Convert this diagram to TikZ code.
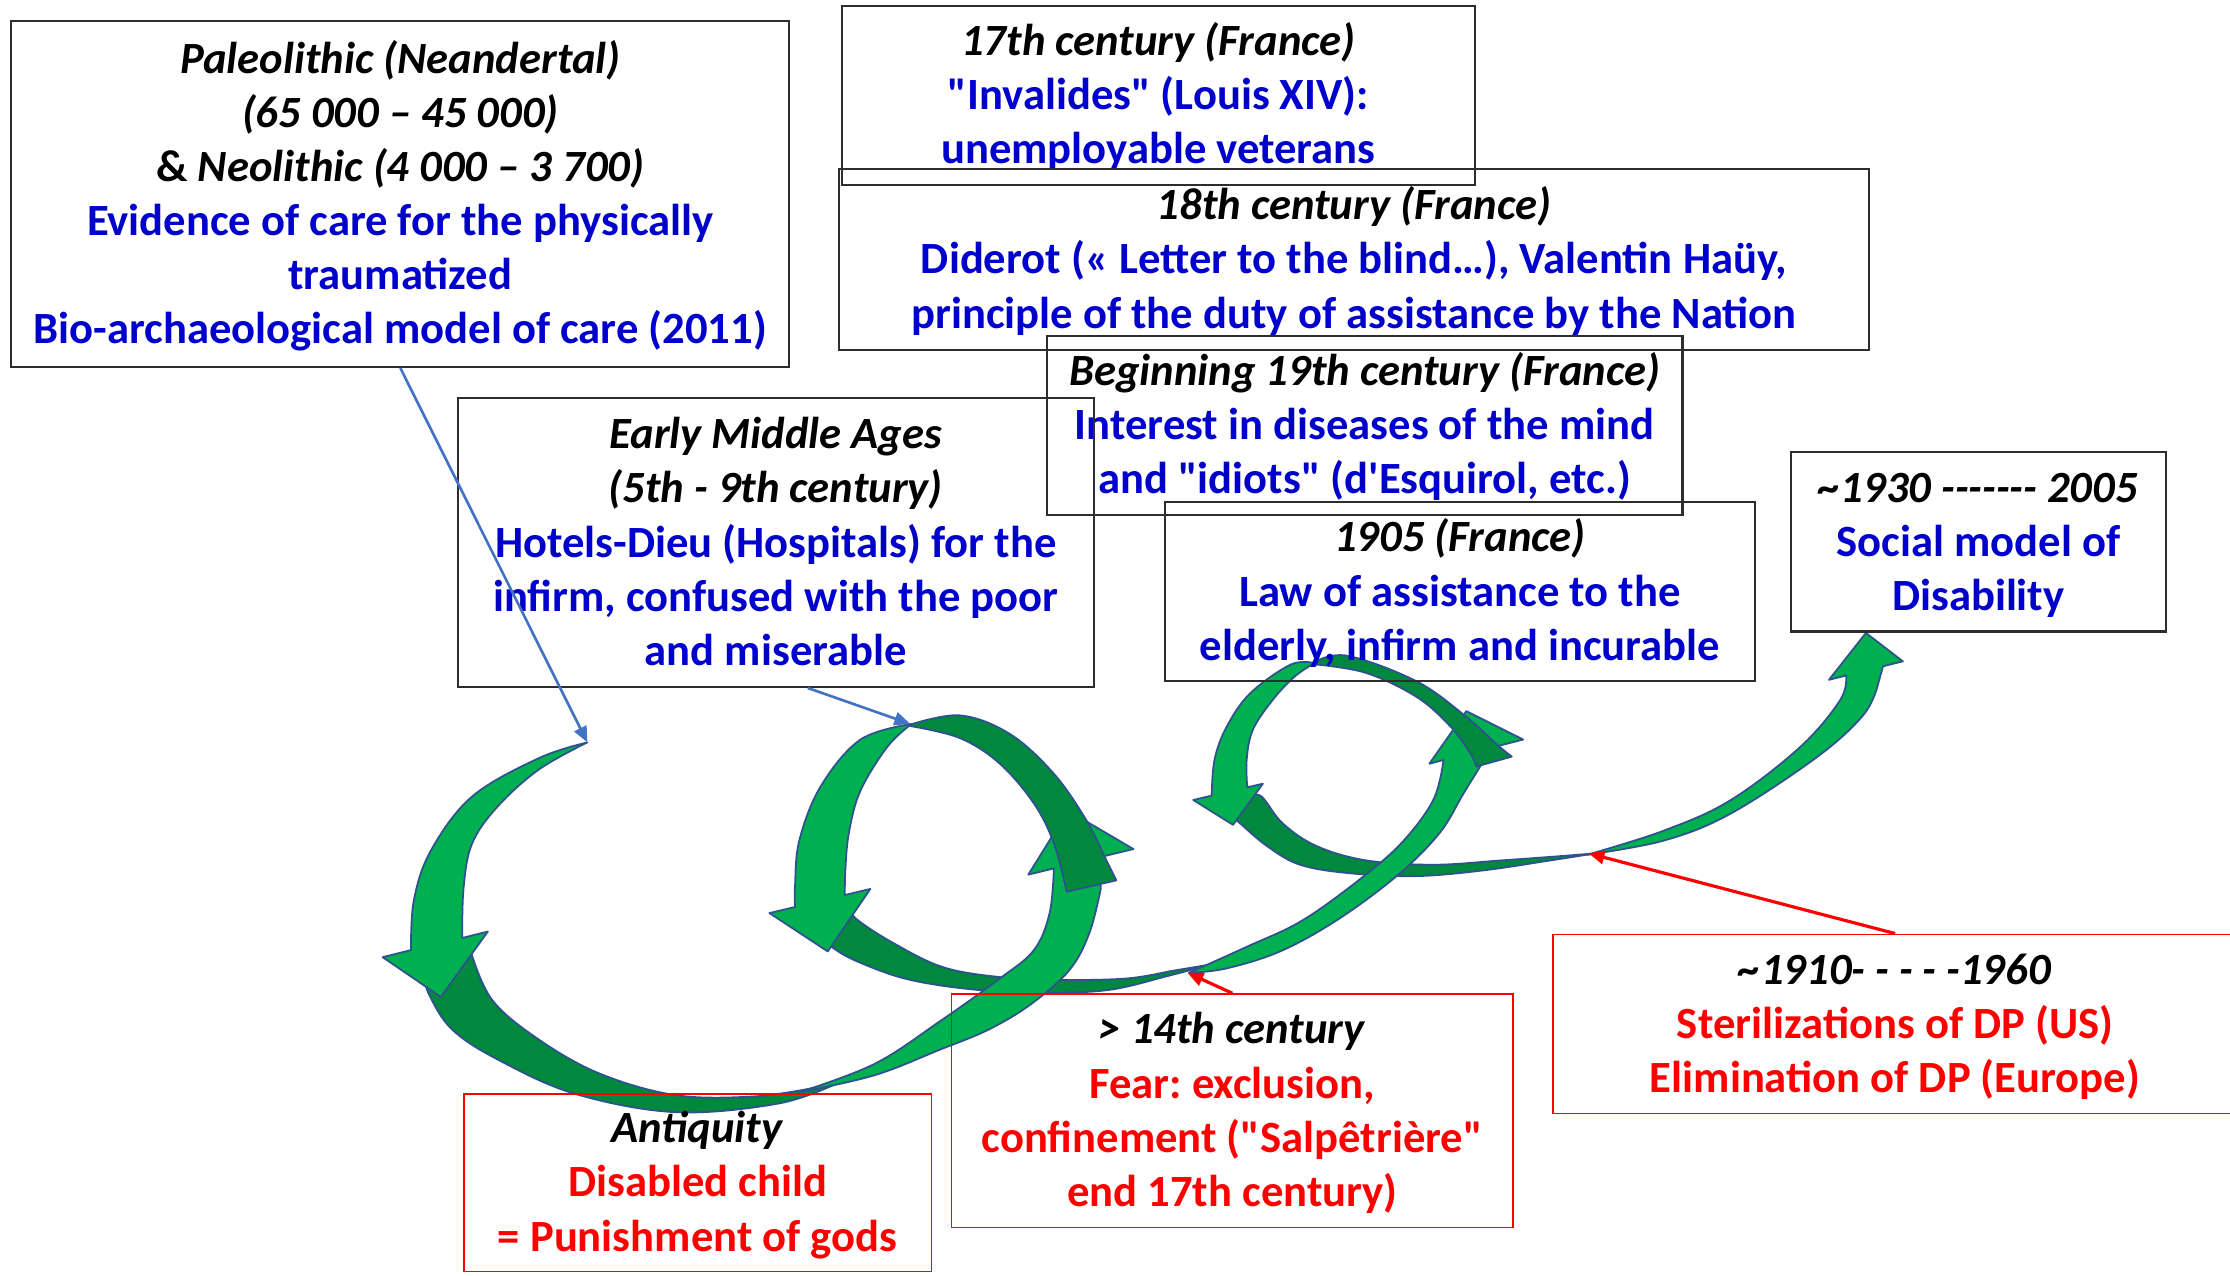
\documentclass[tikz,border=0pt]{standalone}
\usepackage{fontspec}
\newfontfamily\calib{Carlito}[BoldFont={* Bold}, ItalicFont={* Italic}, BoldItalicFont={* Bold Italic}]
\usetikzlibrary{arrows.meta,calc}

\definecolor{tblue}{RGB}{0,0,204}
\definecolor{glight}{RGB}{0,176,80}
\definecolor{gdark}{RGB}{0,136,62}
\definecolor{gedge}{RGB}{47,82,143}
\definecolor{conblue}{RGB}{68,114,196}
\definecolor{boxline}{RGB}{45,45,45}

% one drawing unit = one pixel of the layout grid
\def\unitpx{0.0142219cm}
% strut that centres each text line on its cap height
\newcommand\lnstrut{\rule[-3.6pt]{0pt}{15.4pt}}
\newcommand\lineH[1]{\textit{#1}}
\newcommand\lineB[1]{\textcolor{tblue}{#1}}
\newcommand\lineR[1]{\textcolor{red}{#1}}

\begin{document}
\begin{tikzpicture}[x=0.0142219cm, y=-0.0142219cm,
  box/.style={draw=boxline, line width=0.6pt, inner sep=0pt, align=center,
    font=\fontsize{12.7}{15.4}\selectfont\calib\bfseries\frenchspacing},
  redbox/.style={box, draw=red, line width=0.5pt},
  boxsize/.style 2 args={minimum width={#1*\unitpx}, minimum height={#2*\unitpx}},
  ribL/.style={fill=glight, draw=gedge, line width=0.5pt, line join=round},
  ribD/.style={fill=gdark, draw=gedge, line width=0.5pt, line join=round},
  bluecon/.style={draw=conblue, line width=0.75pt, -{Triangle[length=4.5pt,width=3.8pt]}},
  redcon/.style={draw=red, line width=0.9pt, -{Triangle[length=4.5pt,width=3.8pt]}},
  ]
\fill[white] (0,0) rectangle (1568,897);
\useasboundingbox (0,0) rectangle (1568,897);

% ---------- spiral ribbon: back (dark) bottom arcs ----------
\path[ribD] plot[smooth,tension=0.6] coordinates {(298,686) (302,700) (318,724) (350,745) (404,769) (475,782) (547,776) (588,762)}
  -- plot[smooth,tension=0.6] coordinates {(569,765.5) (529,771) (475,770) (422,755) (379,731) (346,703) (331,669)} -- cycle;
\path[ribD] plot[smooth,tension=0.6] coordinates {(570,652) (585,666) (605,677) (640,689) (687,696) (734,698) (780,696) (822,686) (852,678)}
  -- plot[smooth,tension=0.6] coordinates {(822,683) (792,688) (745,689) (703,687) (663,680) (628,663) (602,646) (596,636)} -- cycle;
\path[ribD] plot[smooth,tension=0.6] coordinates {(860,568) (872,579) (891,595) (914,608) (949,614) (996,616) (1043,612) (1090,605) (1122,600)}
  -- plot[smooth,tension=0.6] coordinates {(1090,602.5) (1055,605) (1008,608) (961,605) (926,595) (902,579) (887,560) (878,560)} -- cycle;

% ---------- rising (light) arcs with upward heads ----------
\path[ribL] plot[smooth,tension=0.6] coordinates {(562,768) (615,748) (661,718) (703,688) (727,668) (738,642) (741,610.6)}
  -- (723,615) -- (751,570) -- (797,597) -- (773,602.8)
  -- plot[smooth,tension=0.6] coordinates {(774,625) (766,656) (752,682) (725,706) (695,724) (661,738) (615,756) (562,768)} -- cycle;
\path[ribL] plot[smooth,tension=0.6] coordinates {(836,684) (876,666) (916,647) (959,616) (987,591) (1008,562) (1015,534.4)}
  -- (1005,537) -- (1031,500) -- (1071,520) -- (1043,527.2)
  -- plot[smooth,tension=0.6] coordinates {(1042,537) (1029,558) (1012,586) (982,616) (940,647) (900,669) (862,681) (836,684)} -- cycle;
\path[ribL] plot[smooth,tension=0.6] coordinates {(1116,601) (1170,584) (1217,562.5) (1266,525) (1294,492) (1298,475)}
  -- (1286,478) -- (1312,445) -- (1338,465) -- (1324,468.5)
  -- plot[smooth,tension=0.6] coordinates {(1320,483) (1310,503) (1278,532) (1217,572) (1170,591) (1116,601)} -- cycle;

% ---------- back (dark) top arcs ----------
\path[ribD] plot[smooth,tension=0.6] coordinates {(640,509.5) (675,503) (710,516) (741,544) (764,577) (778,605) (785,619)}
  -- plot[smooth,tension=0.6] coordinates {(750,627) (741,593) (727,565) (703,537) (675,519) (640,510.5)} -- cycle;
\path[ribD] plot[smooth,tension=0.6] coordinates {(923,466) (947,461) (996,479) (1031,504) (1052,523) (1063,532)}
  -- plot[smooth,tension=0.6] coordinates {(1038,539) (1034,530) (1020,511) (996,490) (960,473) (923,467)} -- cycle;

% ---------- front (light) left arcs with downward heads ----------
\path[ribL] plot[smooth,tension=0.6] coordinates {(413,522) (379,533) (332,560) (303,598) (291,633) (289,668)}
  -- (269,673) -- (310,701) -- (343,655) -- (325,659.5)
  -- plot[smooth,tension=0.6] coordinates {(325,659.5) (326,624) (332,593) (350,567) (379,541) (413,522)} -- cycle;
\path[ribL] plot[smooth,tension=0.6] coordinates {(641,509) (605,520) (577,553) (562,591) (559,623) (559,637.7)}
  -- (541,642) -- (582,669) -- (612,625) -- (594,629.3)
  -- plot[smooth,tension=0.6] coordinates {(594,629.3) (594.5,610) (597,585) (605,556) (624,525) (641,509)} -- cycle;
\path[ribL] plot[smooth,tension=0.6] coordinates {(923,466) (907,467.5) (879,487.5) (862.5,511) (854,534) (852,559.4)}
  -- (839,562.5) -- (867,580) -- (888,551) -- (877,553.6)
  -- plot[smooth,tension=0.6] coordinates {(877,553.6) (876.6,534) (881,513) (895,492) (910,476) (923,467)} -- cycle;

% ---------- text boxes ----------
\node[box, boxsize={547}{243}] (pal) at (281.5,136.5)
  {\lnstrut\lineH{Paleolithic (Neandertal)}\\
   \lineH{(65 000 – 45 000)}\\
   \& \lineH{Neolithic (4 000 – 3 700)}\\
   \lineB{Evidence of care for the physically}\\
   \lineB{traumatized}\\
   \lineB{Bio-archaeological model of care (2011)}\lnstrut};

\node[box, boxsize={445}{126}] (c17) at (814.5,67)
  {\lnstrut\lineH{17th century (France)}\\
   \lineB{"Invalides" (Louis XIV):}\\
   \lineB{unemployable veterans}\lnstrut};

\node[box, boxsize={724}{127}] (c18) at (952,182.5)
  {\lnstrut\lineH{18th century (France)}\\
   \lineB{Diderot (« Letter to the blind…), Valentin Haüy,}\\
   \lineB{principle of the duty of assistance by the Nation}\lnstrut};

\node[box, boxsize={447}{126}] (c19) at (959.5,299)
  {\lnstrut\lineH{Beginning 19th century (France)}\\
   \lineB{Interest in diseases of the mind}\\
   \lineB{and "idiots" (d'Esquirol, etc.)}\lnstrut};

\node[box, boxsize={447}{203}] (ema) at (545.5,381.5)
  {\lnstrut\lineH{Early Middle Ages}\\
   \lineH{(5th - 9th century)}\\
   \lineB{Hotels-Dieu (Hospitals) for the}\\
   \lineB{infirm, confused with the poor}\\
   \lineB{and miserable}\lnstrut};

\node[box, boxsize={415}{126}] (c1905) at (1026.5,416)
  {\lnstrut\lineH{1905 (France)}\\
   \lineB{Law of assistance to the}\\
   \lineB{elderly, infirm and incurable}\lnstrut};

\node[box, boxsize={264}{126}] (c1930) at (1391,381)
  {\lnstrut\lineH{\textasciitilde1930 ------- 2005}\\
   \lineB{Social model of}\\
   \lineB{Disability}\lnstrut};

\node[redbox, boxsize={481}{126}] (c1910) at (1332.5,720)
  {\lnstrut\lineH{\textasciitilde1910- - - - -1960}\\
   \lineR{Sterilizations of DP (US)}\\
   \lineR{Elimination of DP (Europe)}\lnstrut};

\node[redbox, boxsize={395}{164}] (c14) at (866.5,781)
  {\lnstrut\lineH{> 14th century}\\
   \lineR{Fear: exclusion,}\\
   \lineR{confinement ("Salpêtrière"}\\
   \lineR{end 17th century)}\lnstrut};

\node[redbox, boxsize={329}{125}] (anti) at (490.5,831.5)
  {\lnstrut\lineH{Antiquity}\\
   \lineR{Disabled child}\\
   \lineR{= Punishment of gods}\lnstrut};

% ---------- pointers onto the spiral ----------
\coordinate (hit1) at (413,522);
\coordinate (hit2) at (640,509);
\coordinate (hit3) at (835,684);
\coordinate (hit4) at (1117,600);
\draw[bluecon] (pal.south) -- (hit1);
\draw[bluecon] ($(ema.south)+(22.5,0)$) -- (hit2);
\draw[redcon] (c14.north) -- (hit3);
\draw[redcon] (c1910.north) -- (hit4);
\end{tikzpicture}
\end{document}
